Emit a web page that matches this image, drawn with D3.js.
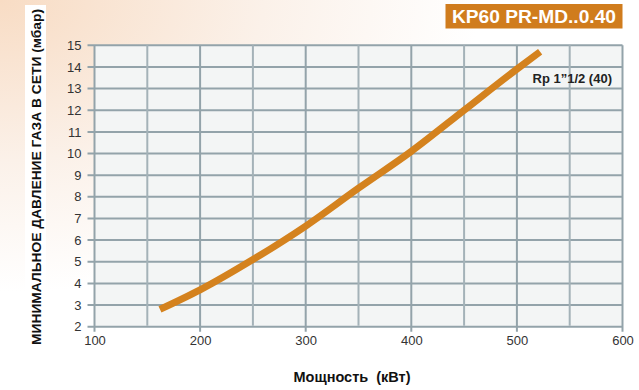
<!DOCTYPE html>
<html><head><meta charset="utf-8">
<script src="https://cdn.jsdelivr.net/npm/d3@7"></script>
<style>html,body{margin:0;padding:0;background:#fff;}svg{display:block;}</style>
</head><body>
<script>
const powerKW = [162, 200, 250, 300, 350, 400, 450, 500, 522];
const pressureMbar = [2.8, 3.7, 5.1, 6.65, 8.4, 10.1, 12.0, 13.9, 14.7];
const xTicks = [100, 200, 300, 400, 500, 600];
const xGrid = [150, 250, 350, 450, 550];
const yTicks = [2,3,4,5,6,7,8,9,10,11,12,13,14,15];
const title = "KP60 PR-MD..0.40";
const seriesLabel = "Rp 1\u201D1/2 (40)";
const xTitle = "Мощность  (кВт)";
const yTitle = "МИНИМАЛЬНОЕ ДАВЛЕНИЕ ГАЗА В СЕТИ (мбар)";

const W = 639, H = 390;
const svg = d3.select("body").append("svg").attr("width", W).attr("height", H);
const defs = svg.append("defs");
const rg = defs.append("radialGradient").attr("id","bg").attr("cx","0").attr("cy","0").attr("r","0.75");
rg.append("stop").attr("offset","0").attr("stop-color","#f8dcc4");
rg.append("stop").attr("offset","0.55").attr("stop-color","#fbf1e9");
rg.append("stop").attr("offset","1").attr("stop-color","#ffffff");
svg.append("rect").attr("width",W).attr("height",H).attr("fill","url(#bg)");

const x = d3.scaleLinear().domain([100, 600]).range([94.5, 622.5]);
const y = d3.scaleLinear().domain([2, 15]).range([326.7, 45.3]);

svg.append("rect").attr("x", x(100)).attr("y", y(15)).attr("width", x(600)-x(100)).attr("height", y(2)-y(15)).attr("fill","#f3f5f5");

const gridCol = "#93a3aa";
svg.append("g").selectAll("line").data(yTicks).join("line")
  .attr("x1", x(100)-7).attr("x2", x(600)).attr("y1", d=>y(d)).attr("y2", d=>y(d))
  .attr("stroke", gridCol).attr("stroke-width", 2);
svg.append("g").selectAll("line").data(xGrid).join("line")
  .attr("x1", d=>x(d)).attr("x2", d=>x(d)).attr("y1", y(15)).attr("y2", y(2)-1)
  .attr("stroke", "#a4b2b8").attr("stroke-width", 2);
svg.append("g").selectAll("line").data(xTicks).join("line")
  .attr("x1", d=>x(d)).attr("x2", d=>x(d)).attr("y1", y(15)).attr("y2", y(2)+5)
  .attr("stroke", gridCol).attr("stroke-width", 2);

const yAxis = svg.append("g").attr("transform", `translate(${x(100)-8},0)`)
  .call(d3.axisLeft(y).tickValues(yTicks).tickSize(0).tickPadding(5).tickFormat(d3.format("d")));
yAxis.select(".domain").remove();
yAxis.selectAll("text").attr("font-family","Liberation Sans, Arial, sans-serif").attr("font-size",13).attr("fill","#333");

const xAxis = svg.append("g").attr("transform", `translate(0,${y(2)+4})`)
  .call(d3.axisBottom(x).tickValues(xTicks).tickSize(0).tickPadding(5).tickFormat(d3.format("d")));
xAxis.select(".domain").remove();
xAxis.selectAll("text").attr("font-family","Liberation Sans, Arial, sans-serif").attr("font-size",13).attr("fill","#333");

const data = powerKW.map((p,i)=>({p, v: pressureMbar[i]}));
const line = d3.line().x(d=>x(d.p)).y(d=>y(d.v)).curve(d3.curveMonotoneX);
svg.append("path").datum(data).attr("d", line).attr("fill","none")
  .attr("stroke","#d4821e").attr("stroke-width",7).attr("stroke-linecap","butt");

svg.append("text").attr("x", 532.5).attr("y", 83).text(seriesLabel)
  .attr("font-family","Liberation Sans, Arial, sans-serif").attr("font-size",13).attr("font-weight","bold").attr("fill","#222");

svg.append("rect").attr("x",445.5).attr("y",4).attr("width",177).attr("height",24.5).attr("fill","#d07c1d");
svg.append("text").attr("x", 534).attr("y", 23).attr("text-anchor","middle").text(title)
  .attr("font-family","Liberation Sans, Arial, sans-serif").attr("font-size",18.5).attr("font-weight","bold").attr("fill","#fff")
  .attr("textLength",164).attr("lengthAdjust","spacingAndGlyphs");

svg.append("text").attr("x", 352).attr("y", 382).attr("text-anchor","middle").text(xTitle)
  .attr("font-family","Liberation Sans, Arial, sans-serif").attr("font-size",14.5).attr("font-weight","bold").attr("fill","#111")
  .attr("xml:space","preserve").style("white-space","pre");

svg.append("rect").attr("x",25).attr("y",5).attr("width",21).attr("height",345).attr("fill","#fff");
svg.append("text").attr("transform","translate(40.5,177) rotate(-90)").attr("text-anchor","middle").text(yTitle)
  .attr("font-family","Liberation Sans, Arial, sans-serif").attr("font-size",13.5).attr("font-weight","bold").attr("fill","#111")
  .attr("textLength",336).attr("lengthAdjust","spacingAndGlyphs");
</script>
</body></html>
